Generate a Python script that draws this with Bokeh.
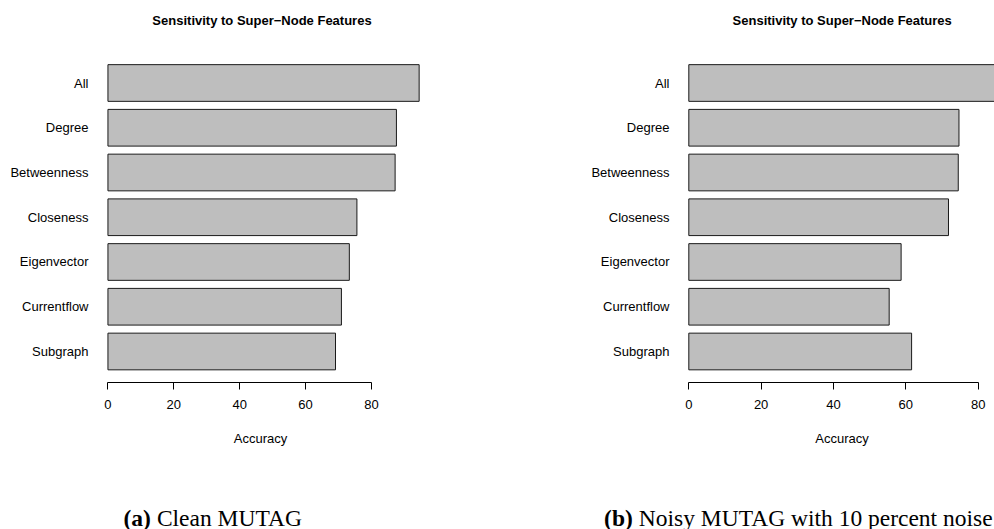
from bokeh.plotting import figure
from bokeh.layouts import row, column
from bokeh.models import Range1d, FixedTicker
from bokeh.core.properties import value
from bokeh.embed import file_html
from bokeh.resources import INLINE

# Super-node feature sets, top to bottom
features = ["All", "Degree", "Betweenness", "Closeness", "Eigenvector", "Currentflow", "Subgraph"]
# Accuracy (%) on clean MUTAG
clean_acc = [94.5, 87.6, 87.2, 75.6, 73.3, 70.9, 69.1]
# Accuracy (%) on MUTAG with 10 percent noise
noisy_acc = [85.0, 74.7, 74.5, 71.8, 58.7, 55.4, 61.6]
x_ticks = [0, 20, 40, 60, 80]

panel_titles = ["Sensitivity to Super\u2212Node Features"] * 2
x_labels = ["Accuracy", "Accuracy"]
cap_tags = ["(a)", "(b)"]
cap_texts = ["Clean MUTAG", "Noisy MUTAG with 10 percent noise"]

SANS = "Liberation Sans"
SERIF = "Liberation Serif"
PAGE_W, PAGE_H = 994, 529
TOP_H = 51          # strip holding the panel titles
CHART_H = 369       # the two bar panels
BOTTOM_H = PAGE_H - TOP_H - CHART_H  # axis titles and captions
FRAME_H = 331

# horizontal centre of each panel's plotting region, in page pixels
region_center = [261.5, 841.7]


def strip(height):
    s = figure(width=PAGE_W, height=height, output_backend="svg", toolbar_location=None,
               x_range=Range1d(0, PAGE_W), y_range=Range1d(0, height),
               x_axis_location=None, y_axis_location=None, min_border=0)
    s.grid.visible = False
    s.outline_line_color = None
    s.background_fill_color = "white"
    s.border_fill_color = "white"
    return s


def panel(values, width, border_left, border_right, x_start, x_end):
    n = len(features)
    pos = [n - 1 - i for i in range(n)]
    p = figure(width=width, height=CHART_H, output_backend="svg", toolbar_location=None,
               x_range=Range1d(x_start, x_end), y_range=Range1d(-0.693, 6.704),
               min_border_left=border_left, min_border_right=border_right,
               min_border_top=0, min_border_bottom=CHART_H - FRAME_H)
    p.outline_line_color = None
    p.grid.visible = False
    p.background_fill_color = "white"
    p.border_fill_color = "white"

    p.hbar(y=pos, left=0, right=values, height=0.82,
           fill_color="#BEBEBE", line_color="#1a1a1a", line_width=1)

    xa = p.xaxis[0]
    xa.ticker = FixedTicker(ticks=x_ticks)
    xa.bounds = (x_ticks[0], x_ticks[-1])
    xa.major_tick_out = 7
    xa.major_tick_in = 0
    xa.minor_tick_line_color = None
    xa.axis_line_color = "black"
    xa.major_tick_line_color = "black"
    xa.major_label_text_font = SANS
    xa.major_label_text_font_size = "13px"
    xa.major_label_text_color = "black"
    xa.major_label_standoff = 10

    ya = p.yaxis[0]
    ya.ticker = FixedTicker(ticks=pos)
    ya.major_label_overrides = {pp: f for pp, f in zip(pos, features)}
    ya.axis_line_color = None
    ya.major_tick_line_color = None
    ya.minor_tick_line_color = None
    ya.major_tick_out = 0
    ya.major_tick_in = 0
    ya.major_label_standoff = 7
    ya.major_label_text_font = SANS
    ya.major_label_text_font_size = "13px"
    ya.major_label_text_color = "black"
    return p


# panel titles
top = strip(TOP_H)
top.text(x=region_center, y=[TOP_H - 20] * 2, text=panel_titles, text_font=value(SANS),
         text_font_size="13px", text_font_style="bold", text_align="center",
         text_baseline="middle", text_color="black")

left = panel(clean_acc, 500, 95, 69, -3.78, 98.25)
right = panel(noisy_acc, 494, 176, 0, -3.4, 84.52)

# axis titles and sub-figure captions
bottom = strip(BOTTOM_H)
bottom.text(x=[260, 841.5], y=[BOTTOM_H - 17.7] * 2, text=x_labels, text_font=value(SANS),
            text_font_size="13px", text_align="center", text_baseline="middle",
            text_color="black")
cap_anchor = [150.4, 632.3]
cap_y = [11.5, 11.5]
bottom.text(x=cap_anchor, y=cap_y, text=cap_tags, text_font=value(SERIF),
            text_font_size="23.5px", text_font_style="bold", text_align="right",
            text_baseline="alphabetic", text_color="black")
bottom.text(x=cap_anchor, y=cap_y, text=cap_texts, x_offset=6, text_font=value(SERIF),
            text_font_size="23.5px", text_align="left",
            text_baseline="alphabetic", text_color="black")

layout = column(top, row(left, right), bottom)
open("out.html", "w").write(file_html(layout, INLINE))
